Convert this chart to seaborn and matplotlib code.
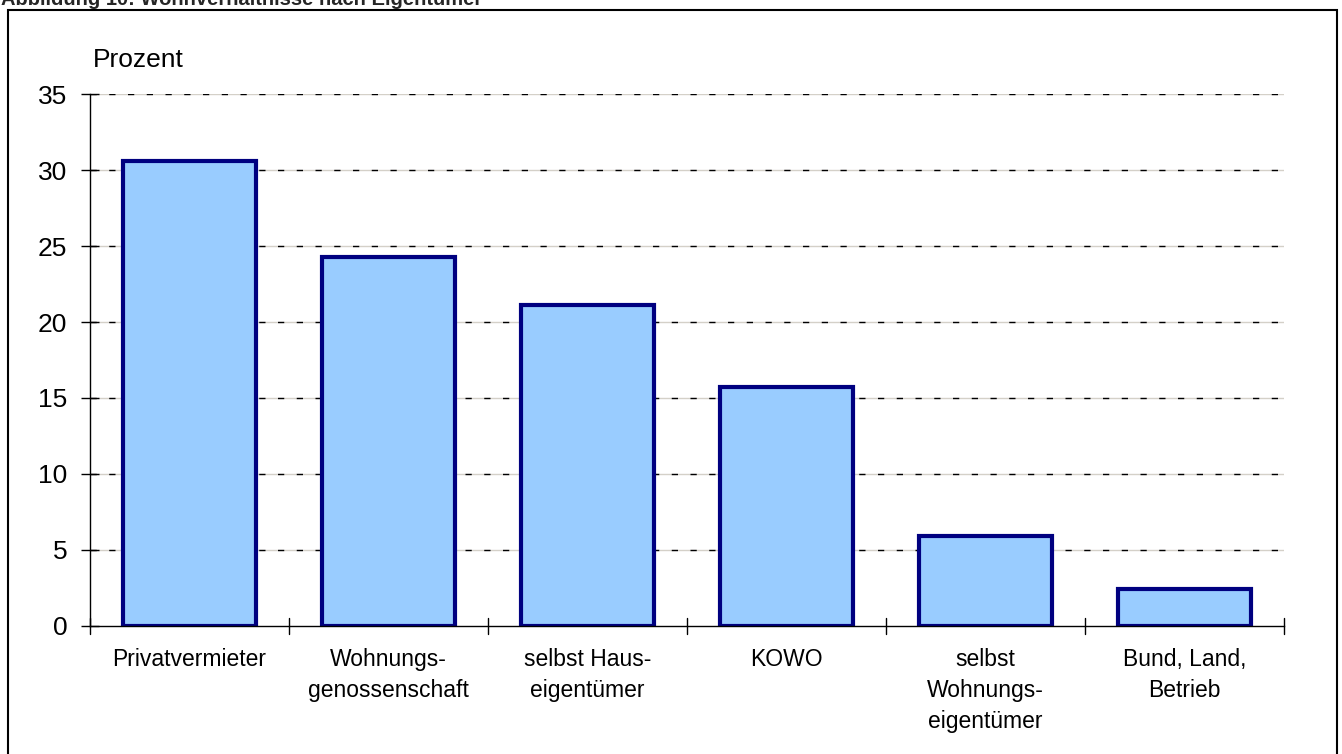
import numpy as np
import pandas as pd
import seaborn as sns
import matplotlib.pyplot as plt
from matplotlib.patches import Rectangle

categories = ["Privatvermieter", "Wohnungs-\ngenossenschaft", "selbst Haus-\neigentümer",
              "KOWO", "selbst\nWohnungs-\neigentümer", "Bund, Land,\nBetrieb"]
values = [30.6, 24.3, 21.1, 15.7, 5.9, 2.4]
yticks = [0, 5, 10, 15, 20, 25, 30, 35]

sns.set_theme(style="white")
plt.rcParams['font.family'] = ['Liberation Sans', 'DejaVu Sans']

df = pd.DataFrame({"cat": categories, "val": values})

fig = plt.figure(figsize=(13.42, 7.54), dpi=100)
ax = fig.add_axes([0.0671, 0.1698, 0.8897, 0.7055])

# outer frame
fig.patches.append(Rectangle((0.006, -0.01), 0.99, 0.997, transform=fig.transFigure,
                             fill=False, edgecolor="black", linewidth=1.5))
fig.text(0.001, 1.001, "Abbildung 10: Wohnverhältnisse nach Eigentümer",
         fontsize=14.5, fontweight="bold", va="center", ha="left")

for y in yticks[1:]:
    ax.axhline(y, color="#d4d0c8", linewidth=1, zorder=0)
    ax.axhline(y, color="black", linewidth=1, linestyle=(0, (4.5, 9)), zorder=0)

sns.barplot(data=df, x="cat", y="val", color="#99ccff", saturation=1, width=0.67,
            edgecolor="#000080", linewidth=3, ax=ax, zorder=2)

ax.set_xlim(-0.5, len(categories) - 0.5)
ax.set_ylim(0, 35)
ax.set_yticks(yticks)
ax.set_yticklabels([str(t) for t in yticks], fontsize=19, color="black")
ax.set_xlabel("")
ax.set_ylabel("")

# x labels between category tick marks
ax.set_xticks(np.arange(len(categories)))
ax.set_xticklabels(categories, fontsize=16.5, linespacing=1.45, va="top", color="black")
ax.tick_params(axis="x", length=0, pad=16)
for b in np.arange(len(categories) + 1) - 0.5:
    ax.plot([b, b], [-0.55, 0.55], color="black", linewidth=1, clip_on=False, zorder=3)
ax.tick_params(axis="y", length=13, width=1, color="black", direction="inout", left=True, pad=10)

for s in ["top", "right"]:
    ax.spines[s].set_visible(False)
ax.spines["left"].set_color("black")
ax.spines["bottom"].set_color("black")
ax.spines["left"].set_linewidth(1)
ax.spines["bottom"].set_linewidth(1)

fig.text(0.069, 0.905, "Prozent", fontsize=19, ha="left", va="bottom", color="black")

fig.savefig("out.png", dpi=100)
